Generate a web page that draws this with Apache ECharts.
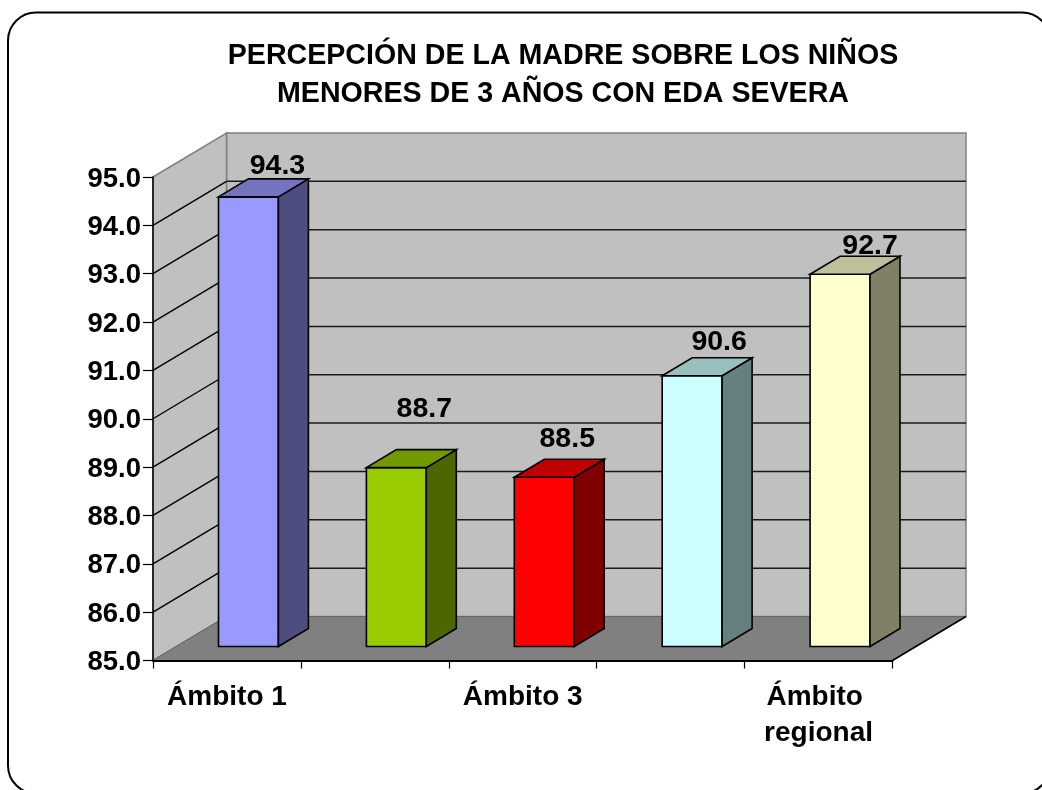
<!DOCTYPE html>
<html>
<head>
<meta charset="utf-8">
<title>EDA severa</title>
<style>
  html, body { margin: 0; padding: 0; background: #fff; }
  #chart { width: 1042px; height: 790px; }
</style>
<script src="https://cdn.jsdelivr.net/npm/echarts@6/dist/echarts.min.js"></script>
</head>
<body>
<div id="chart"></div>
<script>
var categories = ['Ámbito 1', 'Ámbito 2', 'Ámbito 3', 'Ámbito 4', 'Ámbito regional'];
var values = [94.3, 88.7, 88.5, 90.6, 92.7];
var yTicks = [85, 86, 87, 88, 89, 90, 91, 92, 93, 94, 95];

var frontColors = ['#9999FF', '#99CC00', '#FF0000', '#CCFFFF', '#FFFFCC'];
var topColors = ['#7373BF', '#739900', '#BF0000', '#99BFBF', '#BFBF99'];
var sideColors = ['#4D4D80', '#4D6600', '#800000', '#668080', '#808066'];

// the data labels were moved by hand in the original, so each has its own nudge
var labelDx = [29, 28, 23, 27, 30];
var labelDy = [-16, -44, -24, -19, -14];

var FONT = '"Liberation Sans", Arial, sans-serif';
var DEPTH_X = 73.5, DEPTH_Y = 44;    // floor depth
var BAR_DX = 30, BAR_DY = 18;        // bar depth
var BAR_SHIFT_X = 21.5, BAR_SHIFT_Y = 14;  // bar front face, from the front plane

function poly(points, fill, stroke, width) {
  return {
    type: 'polygon',
    shape: { points: points },
    style: { fill: fill, stroke: stroke || null, lineWidth: width || 0 }
  };
}

function line(x1, y1, x2, y2, color, width) {
  return {
    type: 'line',
    shape: { x1: x1, y1: y1, x2: x2, y2: y2 },
    style: { stroke: color, lineWidth: width }
  };
}

/* back wall, left wall and floor */
function renderBox(params) {
  var cs = params.coordSys;
  var l = cs.x, r = cs.x + cs.width, t = cs.y, b = cs.y + cs.height;
  var dx = DEPTH_X, dy = DEPTH_Y;
  return {
    type: 'group',
    children: [
      poly([[l + dx, t - dy], [r + dx, t - dy], [r + dx, b - dy], [l + dx, b - dy]], '#C0C0C0', '#808080', 1.5),
      poly([[l, t], [l + dx, t - dy], [l + dx, b - dy], [l, b]], '#C0C0C0', '#808080', 1.5),
      poly([[l, b], [l + dx, b - dy], [r + dx, b - dy], [r, b]], '#808080', '#666666', 1),
      line(r, b, r + dx, b - dy, '#000', 1.5)
    ]
  };
}

/* one gridline on the left wall and the back wall */
function renderGrid(params, api) {
  var cs = params.coordSys;
  var y = api.coord([0, api.value(0)])[1];
  return {
    type: 'group',
    children: [
      line(cs.x, y, cs.x + DEPTH_X, y - DEPTH_Y, '#000', 1.4),
      line(cs.x + DEPTH_X, y - DEPTH_Y, cs.x + cs.width + DEPTH_X, y - DEPTH_Y, '#1a1a1a', 1.5)
    ]
  };
}

function renderBar(params, api) {
  var i = api.value(0);
  var val = api.value(1);
  var top = api.coord([i, val]);
  var base = api.coord([i, yTicks[0]]);
  var w = api.size([1, 0])[0] * 0.405;
  var x0 = top[0] + BAR_SHIFT_X - w / 2, x1 = x0 + w;
  var yt = top[1] - BAR_SHIFT_Y, yb = base[1] - BAR_SHIFT_Y;
  var ddx = BAR_DX, ddy = BAR_DY;
  return {
    type: 'group',
    children: [
      poly([[x0, yt], [x1, yt], [x1, yb], [x0, yb]], frontColors[i], '#000', 1.6),
      poly([[x1, yt], [x1 + ddx, yt - ddy], [x1 + ddx, yb - ddy], [x1, yb]], sideColors[i], '#000', 1.6),
      poly([[x0, yt], [x0 + ddx, yt - ddy], [x1 + ddx, yt - ddy], [x1, yt]], topColors[i], '#000', 1.6),
      {
        type: 'text',
        style: {
          text: val.toFixed(1),
          x: x0 + w / 2 + labelDx[i],
          y: yt + labelDy[i],
          align: 'center',
          verticalAlign: 'bottom',
          fill: '#000',
          font: 'bold 28.5px ' + FONT
        }
      }
    ]
  };
}

var chart = echarts.init(document.getElementById('chart'), null, { renderer: 'canvas' });

var barData = [];
for (var i = 0; i < values.length; i++) {
  barData.push([i, values[i]]);
}
// the top edge of the walls is drawn by the box, so 95 has no black gridline
var gridData = [];
for (var j = 1; j < yTicks.length - 1; j++) {
  gridData.push([yTicks[j]]);
}

chart.setOption({
  animation: false,
  backgroundColor: '#fff',
  title: {
    text: 'PERCEPCIÓN DE LA MADRE SOBRE LOS NIÑOS\nMENORES DE 3 AÑOS CON EDA SEVERA',
    left: 558,
    top: 32,
    textAlign: 'center',
    textStyle: {
      fontFamily: FONT,
      fontWeight: 'bold',
      fontSize: 28.6,
      lineHeight: 38,
      color: '#000'
    }
  },
  graphic: [{
    type: 'rect',
    z: 0,
    shape: { x: 8, y: 12.5, width: 1042, height: 781, r: 28 },
    style: { fill: 'none', stroke: '#000', lineWidth: 2 }
  }],
  grid: { left: 153, top: 177, width: 739.5, height: 483.5 },
  xAxis: {
    type: 'category',
    data: categories,
    z: 3,
    axisLine: { lineStyle: { color: '#000', width: 2 } },
    axisTick: { show: true, interval: 0, length: 8, lineStyle: { color: '#000', width: 1.2 } },
    axisLabel: {
      interval: 1,
      margin: 19,
      width: 140,
      overflow: 'break',
      lineHeight: 36,
      fontFamily: FONT,
      fontWeight: 'bold',
      fontSize: 28,
      color: '#000'
    }
  },
  yAxis: {
    type: 'value',
    min: yTicks[0],
    max: yTicks[yTicks.length - 1],
    interval: 1,
    z: 3,
    splitLine: { show: false },
    axisLine: { show: true, lineStyle: { color: '#000', width: 1.5 } },
    axisTick: { show: true, length: 10, lineStyle: { color: '#000', width: 1.2 } },
    axisLabel: {
      margin: 12,
      formatter: function (v) { return '{t|' + v.toFixed(1) + '}'; },
      rich: {
        t: {
          padding: [4, 0, 0, 0],
          fontFamily: FONT,
          fontWeight: 'bold',
          fontSize: 27.5,
          color: '#000'
        }
      }
    }
  },
  series: [
    { type: 'custom', z: 1, silent: true, data: [[0]], renderItem: renderBox },
    { type: 'custom', z: 2, silent: true, data: gridData, encode: { y: 0 }, renderItem: renderGrid },
    { type: 'custom', z: 4, data: barData, encode: { x: 0, y: 1 }, renderItem: renderBar }
  ]
});
</script>
</body>
</html>
